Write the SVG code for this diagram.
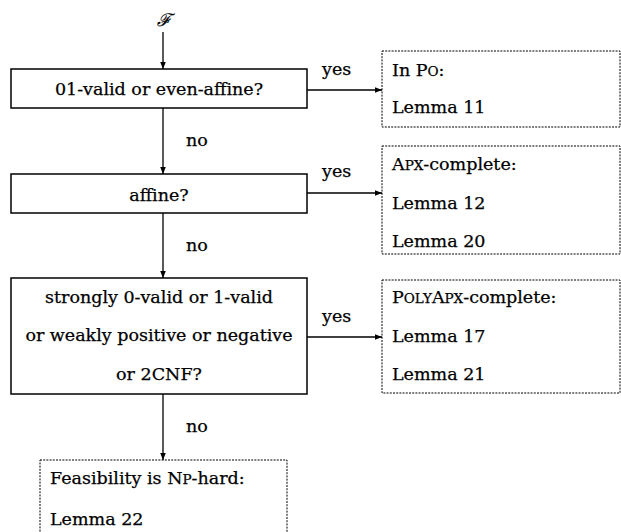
<svg xmlns="http://www.w3.org/2000/svg" width="621" height="532" viewBox="0 0 621 532">
<style>
text{font-family:"DejaVu Serif","Liberation Serif",serif;font-size:17.5px;fill:#000;stroke:#000;stroke-width:0.25}
.box{fill:#fff;stroke:#000;stroke-width:1.5}
.res{fill:#fff;stroke:#000;stroke-width:1;stroke-dasharray:2,1.2}
.edge{fill:none;stroke:#000;stroke-width:1.3;marker-end:url(#arr)}
.sc{font-size:13.5px}
.c{text-anchor:middle}
</style>
<defs>
<marker id="arr" viewBox="0 0 10 10" refX="10" refY="5" markerWidth="7" markerHeight="7" markerUnits="userSpaceOnUse" orient="auto">
<path d="M0,1 L10,5 L0,9 Z" fill="#000"/>
</marker>
</defs>
<g id="connectors">
<path class="edge" d="M163,32 V69"/>
<path class="edge" d="M163,108 V174"/>
<path class="edge" d="M163,213 V278"/>
<path class="edge" d="M163,394 V460"/>
<path class="edge" d="M307,90 H382"/>
<path class="edge" d="M307,193 H382"/>
<path class="edge" d="M307,337 H382"/>
<text x="322" y="75">yes</text>
<text x="322" y="177">yes</text>
<text x="322" y="322">yes</text>
<text x="186" y="146">no</text>
<text x="186" y="251">no</text>
<text x="186" y="432">no</text>
</g>
<g id="start"><text class="c" x="164" y="26" font-style="italic" font-size="21" stroke-width="0">ℱ</text></g>
<g id="q1">
<rect class="box" x="11" y="69" width="296" height="39"/>
<text class="c" x="159" y="95">01-valid or even-affine?</text>
</g>
<g id="q2">
<rect class="box" x="11" y="174" width="296" height="39"/>
<text class="c" x="159" y="201">affine?</text>
</g>
<g id="q3">
<rect class="box" x="11" y="278" width="296" height="116"/>
<text class="c" x="159" y="303">strongly 0-valid or 1-valid</text>
<text class="c" x="159" y="341">or weakly positive or negative</text>
<text class="c" x="159" y="380">or 2CNF?</text>
</g>
<g id="r1">
<rect class="res" x="382" y="51" width="238" height="76"/>
<text x="392" y="76">In P<tspan class="sc">O</tspan>:</text>
<text x="392" y="113">Lemma 11</text>
</g>
<g id="r2">
<rect class="res" x="382" y="146" width="238" height="108"/>
<text x="392" y="170">A<tspan class="sc">PX</tspan>-complete:</text>
<text x="392" y="209">Lemma 12</text>
<text x="392" y="247">Lemma 20</text>
</g>
<g id="r3">
<rect class="res" x="382" y="280" width="238" height="113"/>
<text x="392" y="303">P<tspan class="sc">OLY</tspan>A<tspan class="sc">PX</tspan>-complete:</text>
<text x="392" y="342">Lemma 17</text>
<text x="392" y="380">Lemma 21</text>
</g>
<g id="r4">
<rect class="res" x="40" y="460" width="247" height="80"/>
<text x="50" y="484">Feasibility is N<tspan class="sc">P</tspan>-hard:</text>
<text x="50" y="525">Lemma 22</text>
</g>
</svg>
